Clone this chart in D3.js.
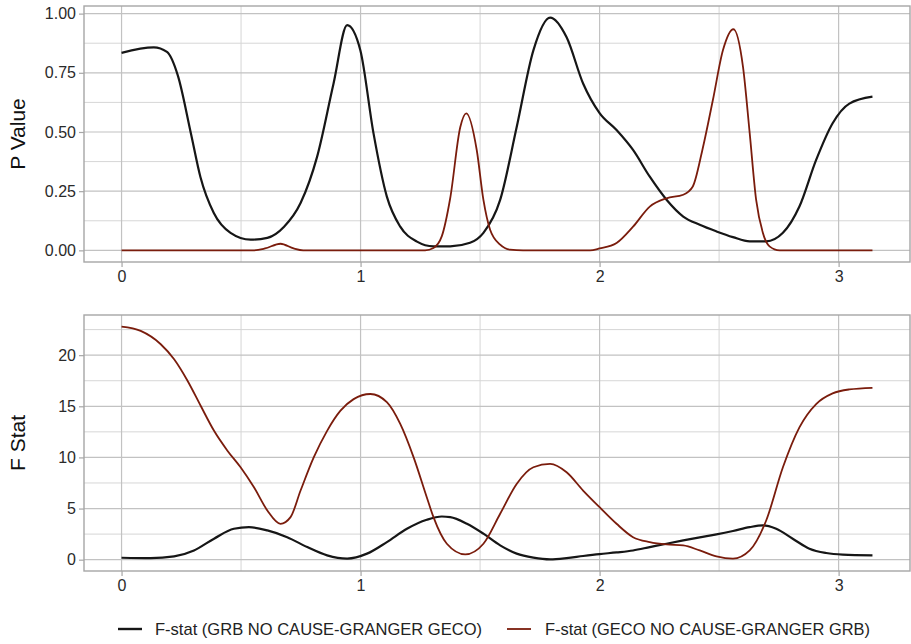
<!DOCTYPE html>
<html>
<head>
<meta charset="utf-8">
<script src="https://cdn.jsdelivr.net/npm/d3@7"></script>
<style>
  html, body { margin: 0; padding: 0; background: #fff; }
  svg { display: block; font-family: "Liberation Sans", Arial, sans-serif; }
</style>
</head>
<body>
<svg id="chart" width="911" height="644"></svg>
<script>
// Granger causality test results along the frequency axis (0 .. pi)

// P value: GRB does not Granger-cause GECO
const pGrbX = [0, 0.135, 0.19, 0.235, 0.29, 0.33, 0.386, 0.456, 0.54, 0.61, 0.68, 0.749, 0.818, 0.887, 0.944, 0.999, 1.054, 1.11, 1.166, 1.236, 1.305, 1.375, 1.458, 1.514, 1.584, 1.653, 1.723, 1.793, 1.862, 1.931, 2.0, 2.071, 2.14, 2.21, 2.28, 2.35, 2.419, 2.489, 2.558, 2.628, 2.697, 2.767, 2.836, 2.906, 2.975, 3.045, 3.1416];
const pGrbY = [0.834, 0.857, 0.838, 0.74, 0.495, 0.31, 0.158, 0.074, 0.045, 0.053, 0.10, 0.20, 0.395, 0.705, 0.951, 0.845, 0.495, 0.227, 0.10, 0.037, 0.017, 0.017, 0.032, 0.074, 0.213, 0.52, 0.845, 0.983, 0.90, 0.705, 0.58, 0.508, 0.424, 0.311, 0.214, 0.143, 0.108, 0.08, 0.056, 0.038, 0.038, 0.074, 0.185, 0.382, 0.537, 0.62, 0.649];

// P value: GECO does not Granger-cause GRB
const pGecoX = [0, 0.55, 0.6, 0.665, 0.72, 0.76, 1.27, 1.305, 1.34, 1.375, 1.417, 1.442, 1.486, 1.514, 1.542, 1.584, 1.625, 1.68, 1.96, 2.0, 2.071, 2.14, 2.21, 2.28, 2.35, 2.39, 2.43, 2.474, 2.516, 2.56, 2.6, 2.628, 2.655, 2.683, 2.711, 2.753, 3.1416];
const pGecoY = [0, 0, 0.008, 0.028, 0.008, 0, 0, 0.01, 0.06, 0.22, 0.52, 0.579, 0.424, 0.213, 0.087, 0.024, 0.003, 0, 0, 0.008, 0.031, 0.10, 0.185, 0.22, 0.235, 0.27, 0.424, 0.635, 0.845, 0.934, 0.775, 0.495, 0.213, 0.074, 0.017, 0, 0];

// F statistic: GRB does not Granger-cause GECO
const fGrbX = [0, 0.122, 0.22, 0.303, 0.387, 0.47, 0.533, 0.61, 0.693, 0.777, 0.86, 0.944, 1.027, 1.11, 1.194, 1.277, 1.34, 1.375, 1.445, 1.514, 1.584, 1.653, 1.723, 1.793, 1.862, 1.931, 2.0, 2.071, 2.14, 2.21, 2.28, 2.35, 2.419, 2.489, 2.558, 2.628, 2.683, 2.739, 2.808, 2.878, 2.948, 3.017, 3.1416];
const fGrbY = [0.19, 0.15, 0.32, 0.9, 2.05, 3.02, 3.18, 2.86, 2.2, 1.23, 0.42, 0.1, 0.59, 1.72, 3.02, 3.9, 4.22, 4.16, 3.51, 2.54, 1.4, 0.59, 0.2, 0.03, 0.15, 0.36, 0.55, 0.71, 0.9, 1.23, 1.56, 1.88, 2.18, 2.47, 2.8, 3.18, 3.35, 3.02, 2.05, 1.07, 0.65, 0.49, 0.42];

// F statistic: GECO does not Granger-cause GRB
const fGecoX = [0, 0.08, 0.164, 0.22, 0.276, 0.331, 0.387, 0.443, 0.498, 0.554, 0.61, 0.665, 0.707, 0.749, 0.804, 0.86, 0.916, 0.971, 1.041, 1.11, 1.166, 1.222, 1.277, 1.305, 1.361, 1.438, 1.514, 1.584, 1.653, 1.723, 1.793, 1.862, 1.931, 2.0, 2.071, 2.14, 2.21, 2.28, 2.35, 2.419, 2.489, 2.558, 2.628, 2.697, 2.767, 2.836, 2.906, 2.975, 3.045, 3.1416];
const fGecoY = [22.79, 22.37, 21.07, 19.6, 17.5, 15.05, 12.6, 10.66, 9.04, 7.08, 4.81, 3.51, 4.16, 6.76, 10.0, 12.6, 14.57, 15.7, 16.2, 15.4, 13.27, 10.0, 6.1, 4.16, 1.56, 0.52, 1.56, 4.49, 7.41, 9.04, 9.37, 8.55, 6.76, 5.13, 3.51, 2.2, 1.72, 1.49, 1.4, 0.9, 0.32, 0.1, 0.9, 3.83, 9.04, 12.94, 15.22, 16.26, 16.65, 16.81];

const xTicks = [0, 1, 2, 3];
const pTicks = [0, 0.25, 0.5, 0.75, 1.0];
const fTicks = [0, 5, 10, 15, 20];
const legendLabels = ["F-stat (GRB NO CAUSE-GRANGER GECO)", "F-stat (GECO NO CAUSE-GRANGER GRB)"];
const seriesColors = ["#161616", "#7a1c0c"];

const svg = d3.select("#chart");
const left = 84, right = 910;

function expand(ext, f = 0.05) {
  const d = ext[1] - ext[0];
  return [ext[0] - d * f, ext[1] + d * f];
}

const toPairs = (xs, ys) => xs.map((x, i) => [x, ys[i]]);

const x = d3.scaleLinear().domain(expand([0, Math.PI])).range([left, right]);

function panel(top, bottom, series, ticks, fmt, yLabel) {
  const allY = series.flatMap(s => s.map(d => d[1]));
  const y = d3.scaleLinear().domain(expand(d3.extent(allY))).range([bottom, top]);
  const g = svg.append("g");

  // minor grid
  const yMinor = ticks.slice(0, -1).map((t, i) => (t + ticks[i + 1]) / 2);
  const step = ticks[1] - ticks[0];
  if (y(ticks[ticks.length - 1] + step / 2) > top) yMinor.push(ticks[ticks.length - 1] + step / 2);
  if (y(ticks[0] - step / 2) < bottom) yMinor.unshift(ticks[0] - step / 2);
  const xMinor = [0.5, 1.5, 2.5];
  g.selectAll(".ymin").data(yMinor).join("line")
    .attr("x1", left).attr("x2", right)
    .attr("y1", d => y(d)).attr("y2", d => y(d))
    .attr("stroke", "#d6d6d6").attr("stroke-width", 1);
  g.selectAll(".xmin").data(xMinor).join("line")
    .attr("y1", top).attr("y2", bottom)
    .attr("x1", d => x(d)).attr("x2", d => x(d))
    .attr("stroke", "#d6d6d6").attr("stroke-width", 1);

  // major grid
  g.selectAll(".ymaj").data(ticks).join("line")
    .attr("x1", left).attr("x2", right)
    .attr("y1", d => y(d)).attr("y2", d => y(d))
    .attr("stroke", "#c2c2c2").attr("stroke-width", 1.2);
  g.selectAll(".xmaj").data(xTicks).join("line")
    .attr("y1", top).attr("y2", bottom)
    .attr("x1", d => x(d)).attr("x2", d => x(d))
    .attr("stroke", "#c2c2c2").attr("stroke-width", 1.2);

  // lines
  const line = d3.line().x(d => x(d[0])).y(d => y(d[1])).curve(d3.curveMonotoneX);
  series.forEach((s, i) => {
    g.append("path").datum(s)
      .attr("d", line)
      .attr("fill", "none")
      .attr("stroke", seriesColors[i])
      .attr("stroke-width", i === 0 ? 2.2 : 1.8);
  });

  // border
  g.append("rect").attr("x", left).attr("y", top)
    .attr("width", right - left).attr("height", bottom - top)
    .attr("fill", "none").attr("stroke", "#a6a6a6").attr("stroke-width", 1.4);

  // axes
  const ya = d3.axisLeft(y).tickValues(ticks).tickFormat(fmt).tickSize(5).tickPadding(3);
  const yg = g.append("g").attr("transform", `translate(${left},0)`).call(ya);
  const xa = d3.axisBottom(x).tickValues(xTicks).tickFormat(d3.format("d")).tickSize(5).tickPadding(4);
  const xg = g.append("g").attr("transform", `translate(0,${bottom})`).call(xa);
  [yg, xg].forEach(a => {
    a.select(".domain").remove();
    a.selectAll(".tick line").attr("stroke", "#a6a6a6").attr("stroke-width", 1.2);
    a.selectAll(".tick text").attr("fill", "#2a2a2a").attr("font-size", 16)
      .attr("font-family", "'Liberation Sans', Arial, sans-serif");
  });

  g.append("text")
    .attr("transform", `translate(25,${(top + bottom) / 2}) rotate(-90)`)
    .attr("text-anchor", "middle")
    .attr("font-size", 21)
    .attr("fill", "#111")
    .text(yLabel);
}

panel(6, 262, [toPairs(pGrbX, pGrbY), toPairs(pGecoX, pGecoY)], pTicks, d3.format(".2f"), "P Value");
panel(315, 571, [toPairs(fGrbX, fGrbY), toPairs(fGecoX, fGecoY)], fTicks, d3.format("d"), "F Stat");

// legend
const legendItems = [
  { key: 118, text: 155, width: 327 },
  { key: 507, text: 545, width: 325 }
];
const lg = svg.append("g");
legendItems.forEach((it, i) => {
  lg.append("line")
    .attr("x1", it.key).attr("x2", it.key + 24)
    .attr("y1", 629).attr("y2", 629)
    .attr("stroke", seriesColors[i]).attr("stroke-width", i === 0 ? 2.4 : 1.8);
  lg.append("text")
    .attr("x", it.text).attr("y", 635)
    .attr("font-size", 17)
    .attr("font-family", "'Liberation Sans Narrow', 'Liberation Sans', Arial, sans-serif")
    .attr("fill", "#222")
    .attr("textLength", it.width)
    .attr("lengthAdjust", "spacingAndGlyphs")
    .text(legendLabels[i]);
});
</script>
</body>
</html>
